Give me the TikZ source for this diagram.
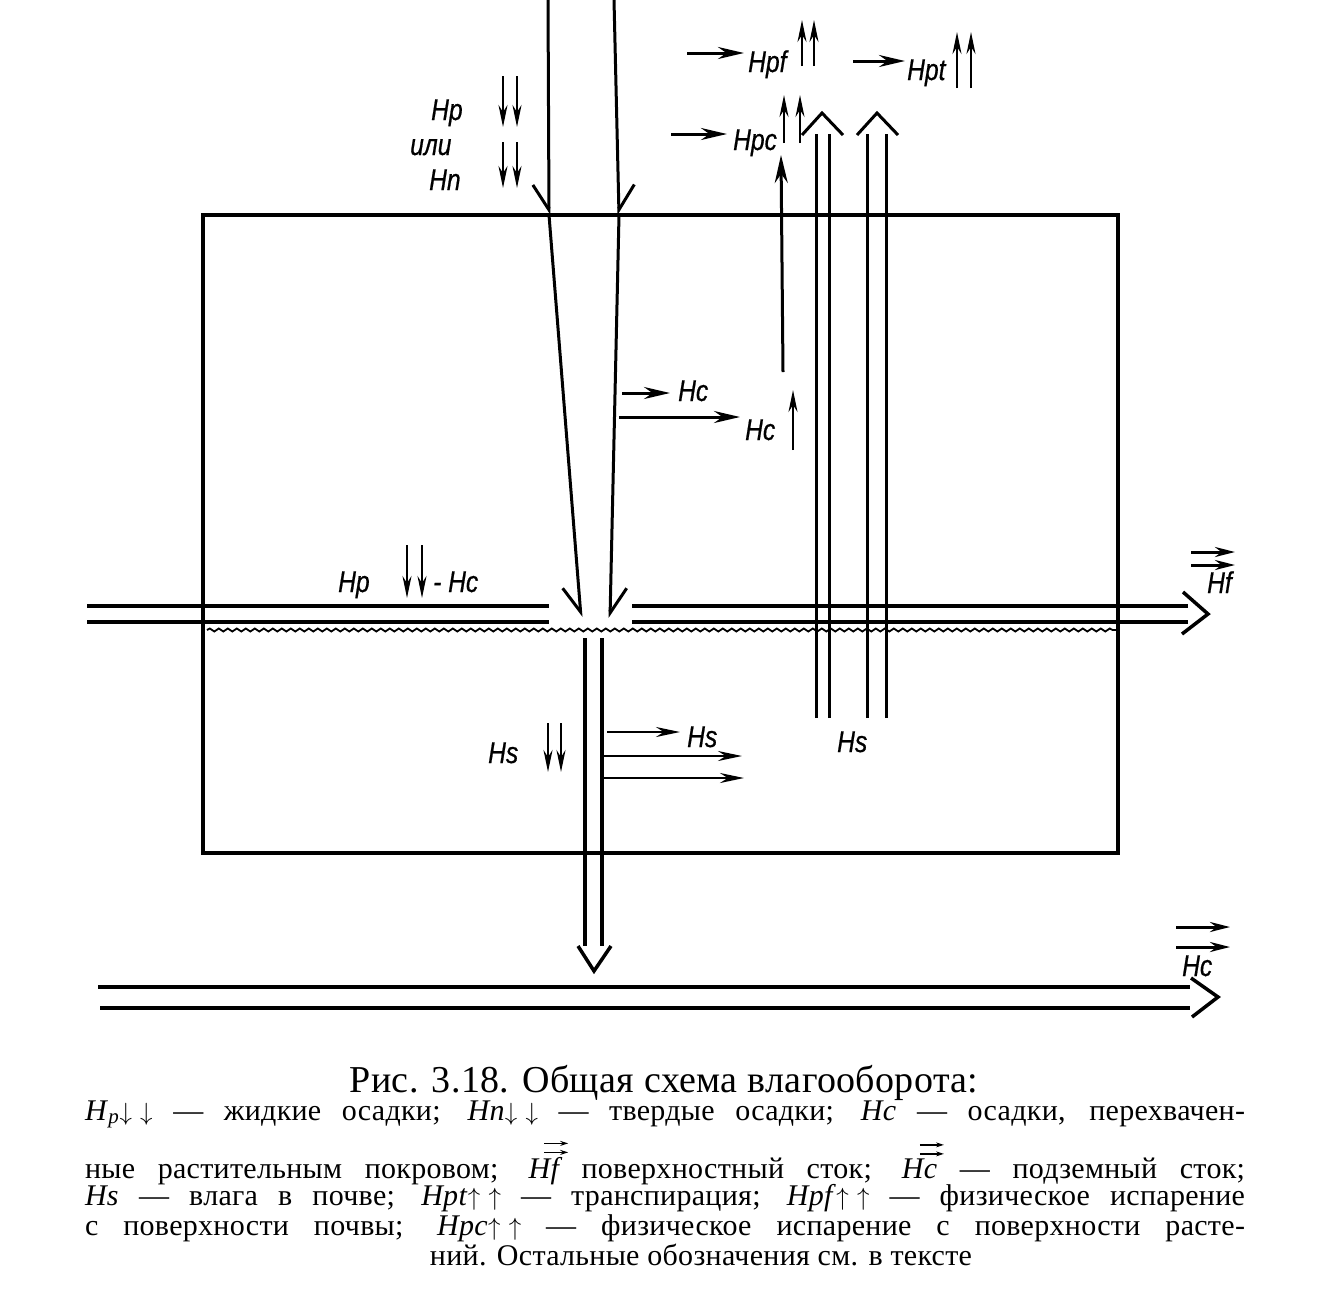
\documentclass[tikz,border=0pt]{standalone}
\usepackage{fontspec}
\setmainfont{Liberation Serif}[LetterSpace=1]
\newfontfamily\labfont{Liberation Sans}[FakeStretch=0.82, FakeBold=0.6]
\usetikzlibrary{arrows.meta, positioning, decorations.pathmorphing}
\definecolor{Encre}{RGB}{0,0,0}
\tikzset{trait/.style={draw=Encre, line width=3.5pt}}
\tikzset{fin/.style={draw=Encre, line width=3pt}}
\tikzset{fl/.style={-{Stealth[length=26pt, width=12pt]}, draw=Encre, line width=3pt}}
\tikzset{flp/.style={-{Stealth[length=22pt, width=9pt]}, draw=Encre, line width=2.4pt}}
\tikzset{flt/.style={-{Stealth[length=8pt, width=5pt]}, draw=Encre, line width=1.4pt}}
\tikzset{barbe/.style={-{Straight Barb[harpoon, length=25pt, width=32pt]}, draw=Encre, line width=3pt}}
\tikzset{barbes/.style={-{Straight Barb[harpoon, swap, length=25pt, width=32pt]}, draw=Encre, line width=3pt}}
\tikzset{lab/.style={inner sep=0pt, anchor=base west, text=Encre, font=\labfont\itshape\fontsize{30}{30}\selectfont}}
\tikzset{leg/.style={inner sep=0pt, anchor=base, font=\fontsize{30}{30}\selectfont}}
% deux fleches au-dessus d'un symbole de la legende
\newcommand\dfl[1]{\ensuremath{\stackrel{\tikz{\draw[flt] (0pt,0pt) -- (24pt,0pt);
  \draw[flt] (0pt,9pt) -- (24pt,9pt);}}{\mbox{\itshape #1}}}}

\begin{document}
\begin{tikzpicture}[x=1pt, y=-1pt]
\useasboundingbox (0,0) rectangle (1343,1299);
% cadre (couvert vegetal + sol)
\draw[trait] (203,215) rectangle (1118,853);
% precipitations
\coordinate (pg0) at (548,0); \coordinate (pg1) at (549,215); \coordinate (pg2) at (581,617);
\coordinate (pd0) at (614,0); \coordinate (pd1) at (619,215); \coordinate (pd2) at (610,618);
\draw[barbes] (pg0) -- (pg1); \draw[barbes] (pg1) -- (pg2);
\draw[barbe] (pd0) -- (pd1); \draw[barbe] (pd1) -- (pd2);
% ecoulement de surface
\foreach \y in {606, 622} {
  \draw[trait] (87,\y) -- (549,\y);
  \draw[trait] (632,\y) -- (1188,\y);
}
\draw[trait] (1183,592) -- (1208,614) -- (1182,634);
\draw[draw=Encre, line width=1.8pt, decorate,
  decoration={snake, amplitude=1.5pt, segment length=9pt}] (207,630) -- (1116,630);
% infiltration
\draw[trait] (585,638) -- (585,946); \draw[trait] (602,638) -- (602,946);
\draw[trait] (578,946) -- (594,971) -- (611,946);
% ecoulement souterrain
\draw[trait] (98,987) -- (1190,987); \draw[trait] (100,1008) -- (1190,1008);
\draw[trait] (1191,978) -- (1218,997) -- (1192,1017);
% transpiration
\foreach \xa/\xb/\xm in {816/829/822, 867/886/877} {
  \draw[fin] (\xa,718) -- (\xa,134); \draw[fin] (\xb,718) -- (\xb,134);
  \draw[fin] (\xm-20,135) -- (\xm,113) -- (\xm+21,135);
}
\draw[fl, -{Stealth[length=28pt, width=13pt]}] (783,372) -- (781,155);
% etiquettes
\node[lab] (hpa) at (431,120) {Hp};
\node[lab] (ili) at (410,155) {или};
\node[lab] (hn) at (429,190) {Hn};
\node[lab] (hpf) at (748,72) {Hpf};
\node[lab] (hpt) at (907,80) {Hpt};
\node[lab] (hpc) at (733,150) {Hpc};
\node[lab] (hc1) at (678,401) {Hc};
\node[lab] (hc2) at (745,440) {Hc};
\node[lab] (hps) at (338,592) {Hp};
\node[lab] (hcs) at (433,592) {- Hc};
\node[lab] (hs1) at (488,763) {Hs};
\node[lab] (hs2) at (687,747) {Hs};
\node[lab] (hs3) at (837,752) {Hs};
\node[lab] (hf) at (1207,593) {Hf};
\node[lab] (hcg) at (1182,976) {Hc};
% fleches des etiquettes
\coordinate (apf) at (687,53); \coordinate (apt) at (853,61); \coordinate (apc) at (671,134);
\coordinate (ac1) at (622,393);
\draw[fl, shorten >=4pt] (apf) -- (hpf.west |- apf);
\draw[fl, shorten >=2pt] (apt) -- (hpt.west |- apt);
\draw[fl, shorten >=6pt] (apc) -- (hpc.west |- apc);
\draw[fl, shorten >=8pt] (ac1) -- (hc1.west |- ac1);
\draw[fl] (619,417) -- (740,417);
\coordinate (as2) at (607,732);
\draw[fl, -{Stealth[length=24pt, width=10pt]}, line width=2.4pt, shorten >=7pt] (as2) -- (hs2.west |- as2);
\draw[fl, -{Stealth[length=24pt, width=10pt]}, line width=2.4pt] (604,756) -- (742,756);
\draw[fl, -{Stealth[length=24pt, width=10pt]}, line width=2.4pt] (602,778) -- (744,778);
\foreach \ya in {552, 565} \draw[fl, -{Stealth[length=20pt, width=10pt]}] (1191,\ya) -- (1235,\ya);
\foreach \ya in {927, 947} \draw[fl, -{Stealth[length=20pt, width=10pt]}] (1176,\ya) -- (1230,\ya);
% fleches verticales
\foreach \x/\ya/\yb in {503/76/127, 517/76/127, 503/142/188, 517/142/188,
  407/545/598, 422/545/598, 548/723/772, 561/723/772}
  \draw[flp] (\x,\ya) -- (\x,\yb);
\foreach \x/\ya/\yb in {802/66/20, 814/66/20, 957/88/32, 971/88/32,
  784/143/95, 800/143/95, 793/450/390}
  \draw[flp] (\x,\ya) -- (\x,\yb);
% legende
\node[leg, font=\fontsize{38}{40}\selectfont] (titre) at (664,1092) {Рис. 3.18. Общая схема влагооборота:};
\node[leg] (l1) at (665,1120) {\makebox[1160pt][s]{\textit{H}\textsubscript{\textit{p}}$\downarrow\,\,\downarrow$ — жидкие осадки; \textit{Hn}$\downarrow\,\,\downarrow$ — твердые осадки; \textit{Hc} — осадки, перехвачен-}};
\node[leg] (l2) at (665,1178) {\makebox[1160pt][s]{ные растительным покровом; \dfl{Hf} поверхностный сток; \dfl{Hc} — подземный сток;}};
\node[leg] (l3) at (665,1205) {\makebox[1160pt][s]{\textit{Hs} — влага в почве; \textit{Hpt}$\uparrow\,\,\uparrow$ — транспирация; \textit{Hpf}$\uparrow\,\,\uparrow$ — физическое испарение}};
\node[leg] (l4) at (665,1235) {\makebox[1160pt][s]{с поверхности почвы; \textit{Hpc}$\uparrow\,\,\uparrow$ — физическое испарение с поверхности расте-}};
\node[leg] (l5) at (701,1265) {ний. Остальные обозначения см. в тексте};
\end{tikzpicture}
\end{document}
